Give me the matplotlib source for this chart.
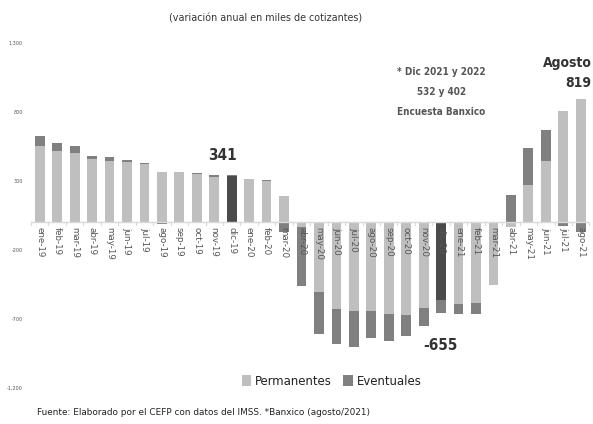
import matplotlib
matplotlib.use("Agg")
import matplotlib.pyplot as plt
from matplotlib import font_manager
import numpy as np

months = ["ene-19", "feb-19", "mar-19", "abr-19", "may-19", "jun-19", "jul-19", "ago-19",
          "sep-19", "oct-19", "nov-19", "dic-19", "ene-20", "feb-20", "mar-20", "abr-20",
          "may-20", "jun-20", "jul-20", "ago-20", "sep-20", "oct-20", "nov-20", "dic-20",
          "ene-21", "feb-21", "mar-21", "abr-21", "may-21", "jun-21", "jul-21", "ago-21"]
permanentes = [553, 520, 505, 459, 447, 440, 423, 368,
               363, 351, 327, 333, 314, 302, 191, -30,
               -502, -628, -640, -640, -666, -669, -618, -560,
               -594, -584, -456, -35, 271, 447, 809, 892]
eventuales = [73, 58, 51, 20, 25, 14, 5, -15,
              2, 4, 16, 8, -4, 2, -70, -431,
              -307, -256, -261, -200, -196, -157, -135, -95,
              -70, -80, 4, 200, 266, 223, -26, -73]
highlight = ["dic-19", "dic-20"]
yticks = [-1200, -700, -200, 300, 800, 1300]

C_LIGHT = "#BFBFBF"
C_MED = "#808080"
C_DARK = "#4A4A4A"

names = {f.name for f in font_manager.fontManager.ttflist}
if "Liberation Sans Narrow" in names:
    NARROW = dict(family="Liberation Sans Narrow")
else:
    NARROW = dict(family="DejaVu Sans", stretch="condensed")

fig = plt.figure(figsize=(5.93, 4.24), dpi=100)
ax = fig.add_axes([0.0523, 0.0849, 0.9417, 0.8137])

x = np.arange(len(months))
perm = np.array(permanentes, dtype=float)
ev = np.array(eventuales, dtype=float)
# Excel-style stacking: positives stack upward, negatives downward
ev_bottom = np.where((ev >= 0) == (perm >= 0), perm, 0.0)
w = 0.56
perm_colors = [C_DARK if m in highlight else C_LIGHT for m in months]
ax.bar(x, perm, width=w, color=perm_colors, edgecolor="none", zorder=2)
ax.bar(x, ev, width=w, bottom=ev_bottom, color=C_MED, edgecolor="none", zorder=2)

ax.set_xlim(-0.5, len(months) - 0.5)
ax.set_ylim(-1200, 1300)
ax.set_yticks(yticks)
ax.set_yticklabels([f"{v:,}" for v in yticks], fontsize=3.5, color="#555555")
ax.tick_params(axis="y", length=0, pad=6)
for s in ["top", "right", "left", "bottom"]:
    ax.spines[s].set_visible(False)
ax.set_xticks([])

# zero axis line with category separators
ax.axhline(0, color="#D9D9D9", lw=1.0, zorder=3)
for b in np.arange(-0.5, len(months), 1.0):
    ax.plot([b, b], [0, -22], color="#D9D9D9", lw=0.8, zorder=3, clip_on=False)

for xi, m in zip(x, months):
    ax.text(xi, -30, m, rotation=-90, ha="center", va="top", fontsize=6.3,
            family="DejaVu Sans", color="#555555", zorder=4)

# annotations
i19 = months.index("dic-19")
i20 = months.index("dic-20")
ilast = len(months) - 1
ax.text(i19 - 0.5, perm[i19] + ev[i19] + 90, f"{perm[i19] + ev[i19]:.0f}", ha="center", va="bottom",
        fontsize=11, fontweight="bold", color="#333333", **NARROW)
ax.text(i20 - 0.05, perm[i20] + ev[i20] - 185, f"{perm[i20] + ev[i20]:.0f}", ha="center", va="top",
        fontsize=11, fontweight="bold", color="#333333", **NARROW)
ax.text(ilast + 0.62, perm[ilast] + 70, f"Agosto\n{perm[ilast] + ev[ilast]:.0f}", ha="right", va="bottom",
        fontsize=10, fontweight="bold", color="#333333", linespacing=1.55, **NARROW)
ax.text(23.0, 945, "* Dic 2021 y 2022\n532 y 402\nEncuesta Banxico", ha="center", va="center",
        fontsize=7.1, fontweight="bold", color="#555555", linespacing=2.25, **NARROW)

fig.text(0.448, 0.957, "(variación anual en miles de cotizantes)", ha="center", va="center",
         fontsize=6.9, family="DejaVu Sans", color="#333333")
fig.text(0.0624, 0.028, "Fuente: Elaborado por el CEFP con datos del IMSS. *Banxico (agosto/2021)",
         ha="left", va="center", fontsize=6.4, family="DejaVu Sans", color="#222222")

# legend
from matplotlib.patches import Patch
handles = [Patch(facecolor=C_LIGHT, edgecolor="none", label="Permanentes"),
           Patch(facecolor=C_MED, edgecolor="none", label="Eventuales")]
fig.legend(handles=handles, loc="center", bbox_to_anchor=(0.559, 0.1), ncol=2, frameon=False,
           prop=dict(size=9.4, **NARROW), handlelength=0.7,
           handleheight=0.9, handletextpad=0.3, columnspacing=0.9, labelcolor="#222222")

fig.savefig("out.png", dpi=100)
